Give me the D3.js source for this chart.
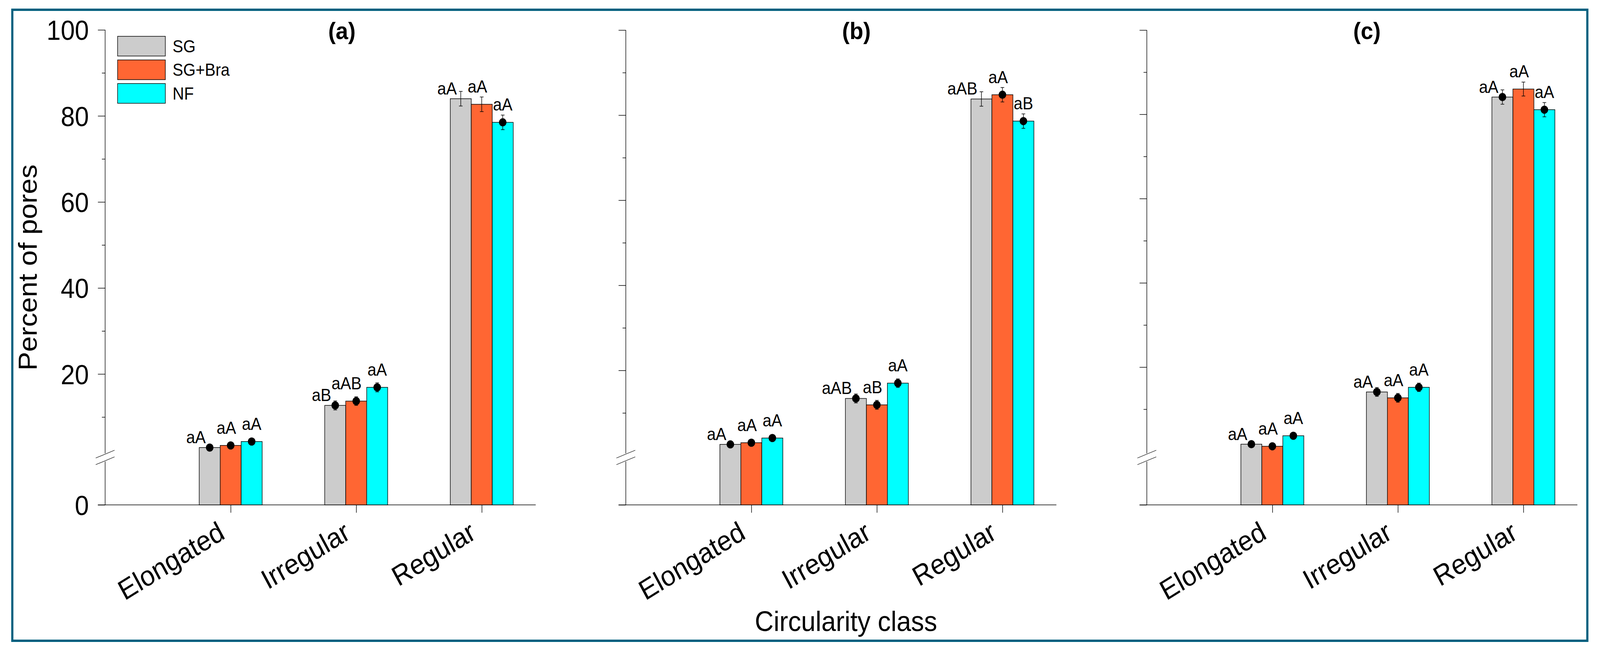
<!DOCTYPE html>
<html>
<head>
<meta charset="utf-8">
<script src="https://cdn.jsdelivr.net/npm/d3@7"></script>
<style>
html,body{margin:0;padding:0;background:#ffffff;width:100%;height:100%;overflow:hidden;}
svg{display:block;width:100vw;height:100vh;}
</style>
</head>
<body>
<svg id="chart" viewBox="0 0 4422 1680" preserveAspectRatio="none"></svg>
<script>
// ---------------- DATA ----------------
const categories = ["Elongated", "Irregular", "Regular"];
const seriesNames = ["SG", "SG+Bra", "NF"];
const panelNames = ["(a)", "(b)", "(c)"];
const majorTicks = [20, 40, 60, 80, 100];
const minorTicks = [10, 30, 50, 70, 90];
const zeroTick = [0];

// means (percent of pores) per panel, per series, over categories
const sgA = [2.9, 12.7, 84.0];
const sgBraA = [3.4, 13.7, 82.7];
const nfA = [4.3, 16.9, 78.5];
const sgB = [2.6, 13.4, 83.8];
const sgBraB = [3.0, 11.9, 84.8];
const nfB = [4.1, 17.0, 78.6];
const sgC = [1.7, 14.1, 84.1];
const sgBraC = [1.2, 12.7, 86.0];
const nfC = [3.7, 15.2, 81.1];

// standard errors
const sgErrA = [0.5, 1.05, 1.7];
const sgBraErrA = [0.5, 1.0, 1.7];
const nfErrA = [0.5, 1.05, 1.7];
const sgErrB = [0.5, 1.05, 1.7];
const sgBraErrB = [0.5, 1.05, 1.7];
const nfErrB = [0.5, 1.0, 1.7];
const sgErrC = [0.5, 1.05, 1.7];
const sgBraErrC = [0.5, 1.05, 1.65];
const nfErrC = [0.5, 1.0, 1.7];

// significance letters
const sgLetA = ["aA", "aB", "aA"];
const sgBraLetA = ["aA", "aAB", "aA"];
const nfLetA = ["aA", "aA", "aA"];
const sgLetB = ["aA", "aAB", "aAB"];
const sgBraLetB = ["aA", "aB", "aA"];
const nfLetB = ["aA", "aA", "aB"];
const sgLetC = ["aA", "aA", "aA"];
const sgBraLetC = ["aA", "aA", "aA"];
const nfLetC = ["aA", "aA", "aA"];

// whether a mean marker (dot) is drawn
const sgDotA = [1, 1, 0];
const sgBraDotA = [1, 1, 0];
const nfDotA = [1, 1, 1];
const sgDotB = [1, 1, 0];
const sgBraDotB = [1, 1, 1];
const nfDotB = [1, 1, 1];
const sgDotC = [1, 1, 1];
const sgBraDotC = [1, 1, 0];
const nfDotC = [1, 1, 1];

const panels = [
  {name: panelNames[0], means: [sgA, sgBraA, nfA], errs: [sgErrA, sgBraErrA, nfErrA], lets: [sgLetA, sgBraLetA, nfLetA], dots: [sgDotA, sgBraDotA, nfDotA]},
  {name: panelNames[1], means: [sgB, sgBraB, nfB], errs: [sgErrB, sgBraErrB, nfErrB], lets: [sgLetB, sgBraLetB, nfLetB], dots: [sgDotB, sgBraDotB, nfDotB]},
  {name: panelNames[2], means: [sgC, sgBraC, nfC], errs: [sgErrC, sgBraErrC, nfErrC], lets: [sgLetC, sgBraLetC, nfLetC], dots: [sgDotC, sgBraDotC, nfDotC]}
];

// ---------------- LAYOUT / STYLE ----------------
const FONT = "'Liberation Sans', Arial, Helvetica, sans-serif";
const colors = ["#cccccc", "#ff6633", "#00ffff"];
const layout = {
  baseY: 1293, breakTop: 1161, breakBot: 1182, axisLen: 1190,
  axisX: [290.6, 1729.6, 3169.5],
  y100: [76.5, 77, 77],
  y10: [1068, 1057.5, 1048],
  titleX: [945, 2367, 3778]
};

const svg = d3.select("#chart");
svg.append("rect").attr("x", 0).attr("y", 0).attr("width", 4422).attr("height", 1680).attr("fill", "#ffffff");

// frame
svg.append("rect")
  .attr("x", 34).attr("y", 25).attr("width", 4387 - 34).attr("height", 1641 - 25)
  .attr("fill", "none").attr("stroke", "#00607f").attr("stroke-width", 6);

panels.forEach((p, pi) => {
  const g = svg.append("g").attr("transform", `translate(${layout.axisX[pi]},0)`);
  const y = d3.scaleLinear().domain([10, 100]).range([layout.y10[pi], layout.y100[pi]]);
  const yLow = d3.scaleLinear().domain([0, 1]).range([layout.baseY, layout.breakBot]);
  const x = d3.scaleLinear().domain([0, 3.43]).range([0, layout.axisLen]);
  const xb = d3.scaleBand().domain(seriesNames).range([-87, 87]).padding(0);
  const bw = xb.bandwidth();

  // y axis line (broken)
  g.append("line").attr("x1", 0).attr("x2", 0).attr("y1", y(100)).attr("y2", layout.breakTop)
    .attr("stroke", "#000").attr("stroke-width", 1.5);
  g.append("line").attr("x1", 0).attr("x2", 0).attr("y1", layout.breakBot).attr("y2", layout.baseY)
    .attr("stroke", "#000").attr("stroke-width", 1.5);
  // break marks
  [[1173, 1153], [1190, 1170]].forEach(([a, b]) => {
    g.append("line").attr("x1", -26).attr("y1", a).attr("x2", 26).attr("y2", b)
      .attr("stroke", "#000").attr("stroke-width", 1.2);
  });
  // x axis line (extends left as zero tick)
  g.append("line").attr("x1", -20).attr("x2", layout.axisLen).attr("y1", layout.baseY).attr("y2", layout.baseY)
    .attr("stroke", "#000").attr("stroke-width", 1.5);

  // major y ticks
  const majAxis = d3.axisLeft(y).tickValues(majorTicks).tickSize(20).tickPadding(25)
    .tickFormat(pi === 0 ? d3.format("d") : () => "");
  const gMaj = g.append("g").call(majAxis);
  gMaj.select(".domain").remove();
  gMaj.selectAll("line").attr("stroke", "#000").attr("stroke-width", 1.5);
  gMaj.selectAll("text").attr("font-family", FONT).attr("font-size", 70).attr("fill", "#000").attr("dy", "0.36em");

  // minor y ticks
  const minAxis = d3.axisLeft(y).tickValues(minorTicks).tickSize(9).tickFormat(() => "");
  const gMin = g.append("g").call(minAxis);
  gMin.select(".domain").remove();
  gMin.selectAll("line").attr("stroke", "#000").attr("stroke-width", 1.5);

  // zero tick label
  const zeroAxis = d3.axisLeft(yLow).tickValues(zeroTick).tickSize(20).tickPadding(25)
    .tickFormat(pi === 0 ? d3.format("d") : () => "");
  const gZero = g.append("g").call(zeroAxis);
  gZero.select(".domain").remove();
  gZero.selectAll("line").attr("stroke", "#000").attr("stroke-width", 1.5);
  gZero.selectAll("text").attr("font-family", FONT).attr("font-size", 70).attr("fill", "#000").attr("dy", "0.36em");

  // x ticks
  const xAxis = d3.axisBottom(x).tickValues([1, 2, 3]).tickSize(20).tickFormat(() => "");
  const gX = g.append("g").attr("transform", `translate(0,${layout.baseY})`).call(xAxis);
  gX.select(".domain").remove();
  gX.selectAll("line").attr("stroke", "#000").attr("stroke-width", 1.5);

  // category labels
  categories.forEach((c, ci) => {
    g.append("text")
      .attr("transform", `translate(${x(ci + 1) - 12},${layout.baseY + 84}) rotate(-30)`)
      .attr("text-anchor", "end")
      .attr("font-family", FONT).attr("font-size", 72).attr("fill", "#000")
      .text(c);
  });

  // bars
  seriesNames.forEach((s, si) => {
    categories.forEach((c, ci) => {
      const m = p.means[si][ci];
      g.append("rect")
        .attr("x", x(ci + 1) + xb(s)).attr("width", bw)
        .attr("y", y(m)).attr("height", layout.baseY - y(m))
        .attr("fill", colors[si]).attr("stroke", "#000").attr("stroke-width", 1.5);
    });
  });

  // error bars, dots, letters
  seriesNames.forEach((s, si) => {
    categories.forEach((c, ci) => {
      const m = p.means[si][ci];
      const e = p.errs[si][ci];
      const cx = x(ci + 1) + xb(s) + bw / 2;
      g.append("line").attr("x1", cx).attr("x2", cx).attr("y1", y(m + e)).attr("y2", y(m - e))
        .attr("stroke", "#000").attr("stroke-width", 1.5);
      [m + e, m - e].forEach(v => {
        g.append("line").attr("x1", cx - 5).attr("x2", cx + 5).attr("y1", y(v)).attr("y2", y(v))
          .attr("stroke", "#000").attr("stroke-width", 1.5);
      });
      if (p.dots[si][ci]) {
        g.append("circle").attr("cx", cx).attr("cy", y(m)).attr("r", 10.5).attr("fill", "#000");
      }
      let tx, ty, anchor;
      if (si === 0) { tx = cx - 11; ty = y(m) - 11; anchor = "end"; }
      else if (si === 1) { tx = cx + 15; ty = y(m) - 30; anchor = "end"; }
      else { tx = cx; ty = y(m) - 30; anchor = "middle"; }
      g.append("text").attr("x", tx).attr("y", ty).attr("text-anchor", anchor)
        .attr("font-family", FONT).attr("font-size", 44).attr("fill", "#000")
        .text(p.lets[si][ci]);
    });
  });

  // panel title
  svg.append("text").attr("x", layout.titleX[pi]).attr("y", 100).attr("text-anchor", "middle")
    .attr("font-family", FONT).attr("font-weight", "bold").attr("font-size", 62).attr("fill", "#000")
    .text(p.name);
});

// legend (panel a)
const legend = svg.append("g").attr("transform", "translate(325,93)");
seriesNames.forEach((s, si) => {
  legend.append("rect").attr("x", 0).attr("y", si * 60.5).attr("width", 132).attr("height", 50.5)
    .attr("fill", colors[si]).attr("stroke", "#000").attr("stroke-width", 1.5);
  legend.append("text").attr("x", 152).attr("y", si * 60.5 + 25 + 16)
    .attr("font-family", FONT).attr("font-size", 44).attr("fill", "#000").text(s);
});

// axis titles
svg.append("text").attr("transform", "translate(102,685) rotate(-90)").attr("text-anchor", "middle")
  .attr("font-family", FONT).attr("font-size", 72).attr("fill", "#000").text("Percent of pores");
svg.append("text").attr("x", 2338).attr("y", 1616).attr("text-anchor", "middle")
  .attr("font-family", FONT).attr("font-size", 72).attr("fill", "#000").text("Circularity class");
</script>
</body>
</html>
